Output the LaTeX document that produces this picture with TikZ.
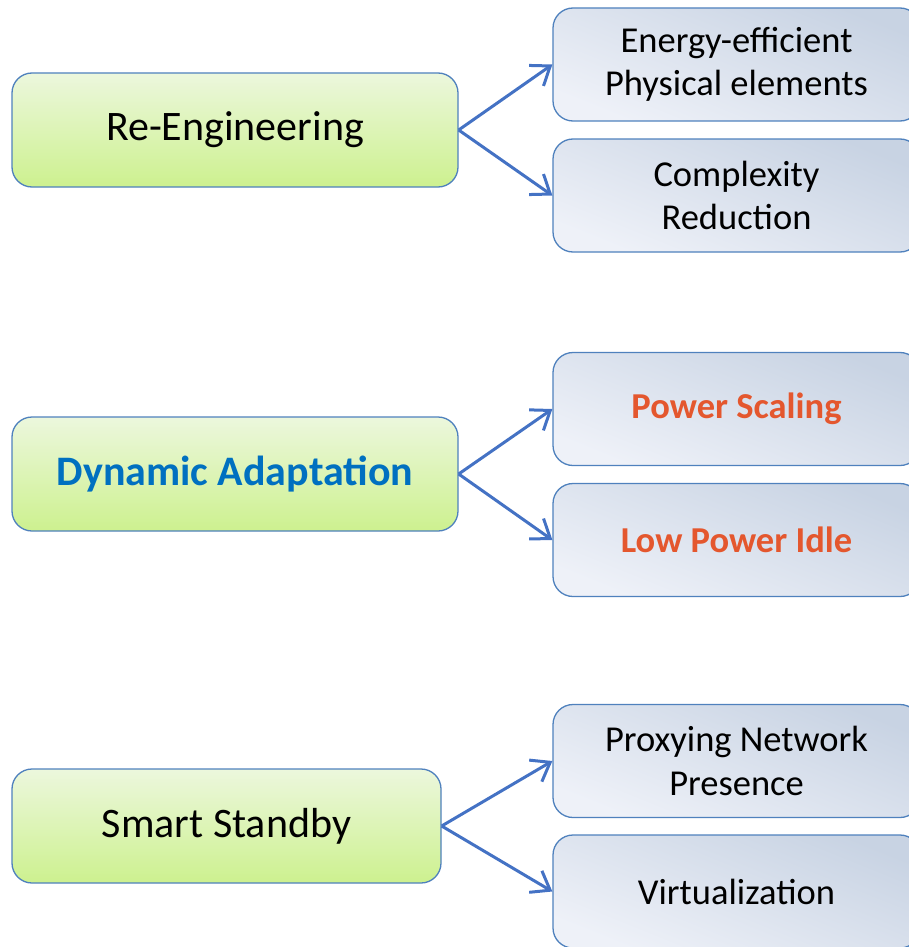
\documentclass[tikz,border=0pt]{standalone}
\usepackage{fontspec}
\setmainfont{Carlito}
\usetikzlibrary{arrows.meta}
\usetikzlibrary{positioning}
\definecolor{myborder}{RGB}{79,129,189}
\definecolor{myarrow}{RGB}{68,114,196}
\definecolor{mygreentop}{RGB}{236,247,221}
\definecolor{mygreenbot}{RGB}{205,241,143}
\definecolor{mybluelight}{RGB}{238,241,248}
\definecolor{mybluedark}{RGB}{200,211,227}
\definecolor{mytextblue}{RGB}{0,112,192}
\definecolor{mytextorange}{RGB}{228,87,46}
\tikzset{
  box/.style={draw=myborder,line width=1.3pt,rounded corners=20pt,inner sep=0pt,align=center},
  box main/.style={box,top color=mygreentop,bottom color=mygreenbot,minimum width=446pt,minimum height=114pt,font=\fontsize{42}{50}\selectfont},
  box sub/.style={box,top color=mybluedark,bottom color=mybluelight,shading angle=-22,minimum width=367pt,minimum height=113pt,font=\fontsize{36.5}{43.5}\selectfont},
  connect arrow/.style={-{Straight Barb[length=17pt,width=25pt,line width=3pt]},line width=3pt,myarrow,line join=round}
}

\begin{document}
\begin{tikzpicture}[x=1pt,y=-1pt]
    \useasboundingbox (0,0) rectangle (909,947);

    % ------- left column -------
    \node[box main] (RE) at (235,130) {Re-Engineering};
    \node[box main] (DA) at (235,474) {\bfseries\textcolor{mytextblue}{Dynamic Adaptation}};
    \node[box main, minimum width=429pt] (SS) at (226.5,826) {Smart Standby};

    % ------- right column -------
    \node[box sub] (EE) at (736.5,64.5)  {Energy-efficient\\Physical elements};
    \node[box sub] (CR) at (736.5,195.5) {Complexity\\Reduction};
    \node[box sub] (PS) at (736.5,409)   {\bfseries\textcolor{mytextorange}{Power Scaling}};
    \node[box sub] (LP) at (736.5,540)   {\bfseries\textcolor{mytextorange}{Low Power Idle}};
    \node[box sub] (PN) at (736.5,761)   {Proxying Network\\Presence};
    \node[box sub] (VI) at (736.5,891.5) {Virtualization};

    % ------- arrows -------
    \foreach \from/\to in {RE/EE, RE/CR, DA/PS, DA/LP, SS/PN, SS/VI}
        \draw[connect arrow] (\from.east) -- (\to.west);
\end{tikzpicture}
\end{document}
